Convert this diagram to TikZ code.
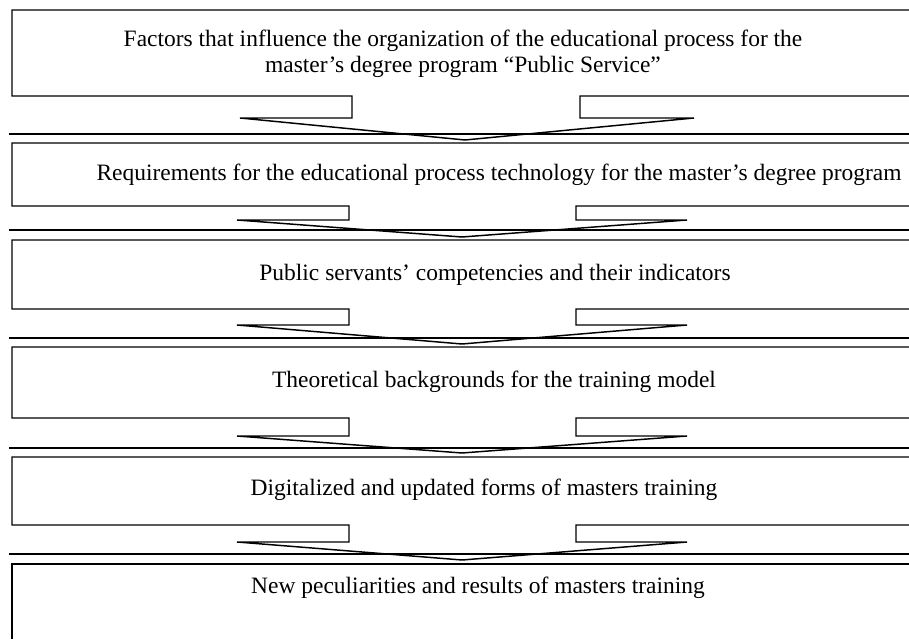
\documentclass[tikz,border=0pt]{standalone}
\usepackage{fontspec}
\setmainfont{Liberation Serif}
\usepackage{tikz}
\tikzstyle{testo} = [inner sep=0pt,align=center,text=black,font=\fontsize{17.6}{19.5}\selectfont]
\tikzstyle{riquadro} = [draw=black,line width=1.1pt,line join=miter]
\tikzstyle{separatore} = [draw=black,line width=2.2pt]

\begin{document}
\begin{tikzpicture}[x=0.75pt,y=-0.75pt]
\useasboundingbox (0,0) rectangle (909,641);

\node (t1) [testo] at (463,54) {Factors that influence the organization of the educational process for the\\master’s degree program “Public Service”};
\node (t2) [testo] at (499,175) {Requirements for the educational process technology for the master’s degree program};
\node (t3) [testo] at (495,275) {Public servants’ competencies and their indicators};
\node (t4) [testo] at (494,382) {Theoretical backgrounds for the training model};
\node (t5) [testo] at (484,490) {Digitalized and updated forms of masters training};
\node (t6) [testo] at (478,588) {New peculiarities and results of masters training};

% separators between the callouts
\draw[separatore] (9,134) -- (909,134);
\draw[separatore] (9,230) -- (909,230);
\draw[separatore] (9,338) -- (909,338);
\draw[separatore] (9,448) -- (909,448);
\draw[separatore] (9,554) -- (909,554);

% callouts with the arrow underneath
\draw[riquadro] (909,10) -- (12,10) -- (12,96) -- (352,96) -- (352,118) -- (240,118) -- (465,140) -- (694,118) -- (580,118) -- (580,96) -- (909,96);
\draw[riquadro] (909,143) -- (12,143) -- (12,206) -- (349,206) -- (349,220) -- (237,220) -- (462,237) -- (687,220) -- (576,220) -- (576,206) -- (909,206);
\draw[riquadro] (909,240) -- (12,240) -- (12,309) -- (349,309) -- (349,325) -- (237,325) -- (462,344) -- (687,325) -- (576,325) -- (576,309) -- (909,309);
\draw[riquadro] (909,347) -- (12,347) -- (12,418) -- (349,418) -- (349,436) -- (237,436) -- (462,453) -- (687,436) -- (576,436) -- (576,418) -- (909,418);
\draw[riquadro] (909,457) -- (12,457) -- (12,525) -- (349,525) -- (349,542) -- (237,542) -- (462,560) -- (687,542) -- (576,542) -- (576,525) -- (909,525);
\draw[riquadro] (909,564) -- (12,564) -- (12,639);

\end{tikzpicture}
\end{document}
